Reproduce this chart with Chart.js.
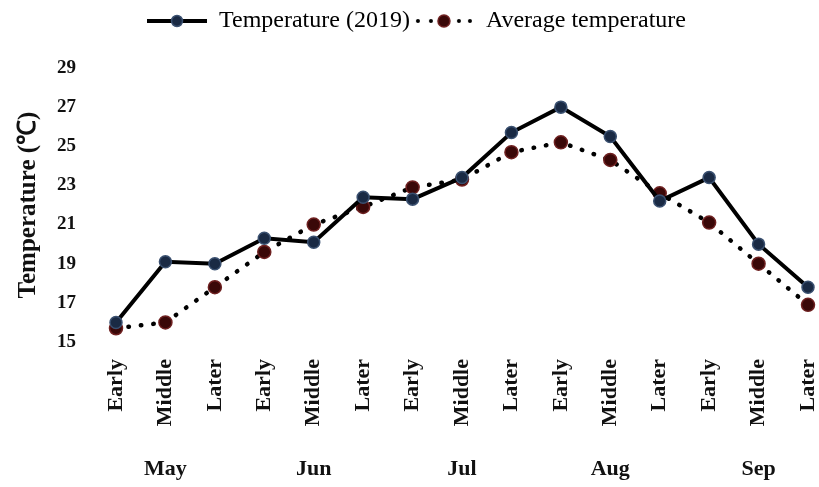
<!DOCTYPE html>
<html>
<head>
<meta charset="utf-8">
<script src="https://cdn.jsdelivr.net/npm/chart.js@4.4.1/dist/chart.umd.min.js"></script>
<style>
  html, body { margin: 0; padding: 0; background: #fff; }
  #wrap { width: 819px; height: 487px; }
</style>
</head>
<body>
<div id="wrap"><canvas id="myChart"></canvas></div>
<script>
// data
const periods = ['Early', 'Middle', 'Later', 'Early', 'Middle', 'Later', 'Early', 'Middle', 'Later',
                 'Early', 'Middle', 'Later', 'Early', 'Middle', 'Later'];
const months = ['', 'May', '', '', 'Jun', '', '', 'Jul', '', '', 'Aug', '', '', 'Sep', ''];
const temp2019 = [16.0, 19.1, 19.0, 20.3, 20.1, 22.4, 22.3, 23.4, 25.7, 27.0, 25.5, 22.2, 23.4, 20.0, 17.8];
const avgTemp = [15.7, 16.0, 17.8, 19.6, 21.0, 21.9, 22.9, 23.3, 24.7, 25.2, 24.3, 22.6, 21.1, 19.0, 16.9];
const yTicks = [15, 17, 19, 21, 23, 25, 27, 29];

const serif = "'Liberation Serif', 'Times New Roman', serif";

// small canvas used as legend marker: line + dot
function legendMark(dotted, fill, edge) {
  const c = document.createElement('canvas');
  c.width = 60; c.height = 16;
  const g = c.getContext('2d');
  g.fillStyle = '#000';
  g.strokeStyle = '#000';
  if (dotted) {
    [4, 17, 45, 56].forEach(x => { g.beginPath(); g.arc(x, 8, 2, 0, Math.PI * 2); g.fill(); });
  } else {
    g.lineWidth = 4;
    g.beginPath(); g.moveTo(0, 8); g.lineTo(60, 8); g.stroke();
  }
  g.beginPath(); g.arc(30, 8, dotted ? 6 : 5.5, 0, Math.PI * 2);
  g.fillStyle = fill; g.fill();
  g.lineWidth = 1.5; g.strokeStyle = edge; g.stroke();
  return c;
}

// make room under the legend (plot top sits lower than legend bottom)
const legendGap = {
  id: 'legendGap',
  beforeInit(chart) {
    const fit = chart.legend.fit;
    chart.legend.fit = function () {
      fit.bind(chart.legend)();
      this.height = 63;
    };
  }
};

document.addEventListener('DOMContentLoaded', (event) => {
  const ctx = document.getElementById('myChart').getContext('2d');
  const marks = [legendMark(false, '#1a2a44', '#3a5070'), legendMark(true, '#3a0808', '#6e2020')];

  const myChart = new Chart(ctx, {
    type: 'line',
    data: {
      labels: periods,
      datasets: [{
        label: 'Temperature (2019)',
        data: temp2019,
        borderColor: '#000',
        borderWidth: 4,
        pointRadius: 6,
        pointBackgroundColor: '#1a2a44',
        pointBorderColor: '#3a5070',
        pointBorderWidth: 1.5,
        tension: 0
      }, {
        label: 'Average temperature',
        data: avgTemp,
        borderColor: '#000',
        borderWidth: 4.5,
        borderDash: [0.5, 12],
        borderCapStyle: 'round',
        pointRadius: 6.5,
        pointBackgroundColor: '#3a0808',
        pointBorderColor: '#6e2020',
        pointBorderWidth: 1.5,
        tension: 0
      }]
    },
    plugins: [legendGap],
    options: {
      responsive: true,
      maintainAspectRatio: false,
      animation: false,
      layout: { padding: { left: 14, right: 0, top: 5, bottom: 0 } },
      plugins: {
        tooltip: { enabled: false },
        legend: {
          position: 'top',
          labels: {
            color: '#111',
            font: { family: serif, size: 24 },
            usePointStyle: true,
            pointStyleWidth: 60,
            padding: 4,
            generateLabels: (chart) => chart.data.datasets.map((ds, i) => ({
              text: ds.label,
              pointStyle: marks[i],
              fillStyle: '#000',
              strokeStyle: '#000',
              lineWidth: 0,
              hidden: false,
              datasetIndex: i
            }))
          }
        }
      },
      scales: {
        x: {
          offset: false,
          grid: { display: false, drawTicks: false },
          border: { display: false },
          ticks: {
            color: '#111',
            autoSkip: false,
            minRotation: 90,
            maxRotation: 90,
            padding: 17,
            font: { family: serif, size: 22, weight: 'bold' }
          },
          afterFit: (s) => { s.paddingLeft = 0; s.paddingRight = 11; s.height = 100; }
        },
        x2: {
          type: 'category',
          position: 'bottom',
          labels: months,
          offset: false,
          grid: { display: false, drawTicks: false },
          border: { display: false },
          ticks: {
            color: '#111',
            autoSkip: false,
            maxRotation: 0,
            padding: 14,
            font: { family: serif, size: 22, weight: 'bold' }
          },
          afterFit: (s) => { s.paddingLeft = 0; s.paddingRight = 0; s.height = 45; }
        },
        y: {
          min: 15,
          max: 29,
          afterBuildTicks: (axis) => { axis.ticks = yTicks.map(v => ({ value: v })); },
          afterFit: (s) => { s.width = 102; },
          grid: { display: false, drawTicks: false },
          border: { display: false },
          ticks: {
            color: '#111',
            padding: 40,
            font: { family: serif, size: 19, weight: 'bold' }
          },
          title: {
            display: true,
            text: 'Temperature (℃)',
            color: '#111',
            font: { family: serif, size: 25, weight: 'bold' },
            padding: { top: 0, bottom: 13 }
          }
        }
      }
    }
  });
});
</script>
</body>
</html>
